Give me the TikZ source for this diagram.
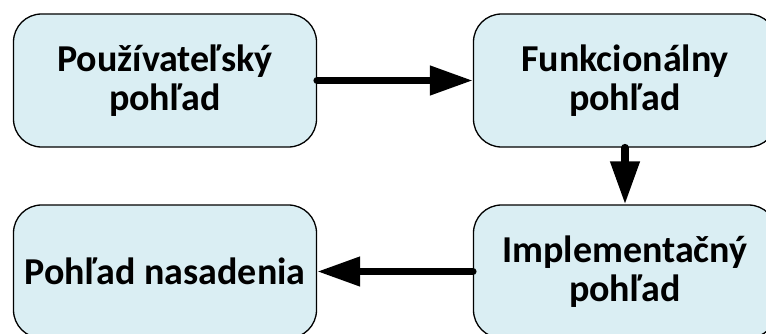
\documentclass[tikz,border=0pt]{standalone}
\usepackage{fontspec}
\setmainfont{Carlito}
\usetikzlibrary{arrows.meta}
\definecolor{boxfill}{HTML}{DAEEF3}
\tikzset{
  viewbox/.style={draw=black, line width=1.3pt, fill=boxfill, rounded corners=28pt,
    minimum width=303pt, minimum height=133pt, align=center, inner sep=0pt,
    font=\fontsize{38}{39.5}\selectfont\bfseries},
  flow/.style={line width=7.5pt, line cap=round,
    -{Triangle[length=43pt, width=28pt]}}
}
\begin{document}
\begin{tikzpicture}[x=1pt, y=1pt]
\useasboundingbox (0,0) rectangle (766,333);
\clip (0,0) rectangle (766,333);
% the four views
\node[viewbox] (user) at (165,252.5) {Používateľský\\pohľad};
\node[viewbox] (func) at (625,252.5) {Funkcionálny\\pohľad};
\node[viewbox] (deploy) at (165,61.5) {Pohľad nasadenia};
\node[viewbox] (impl) at (625,61.5) {Implementačný\\pohľad};
% transitions between views
\draw[flow] (user.east) -- (func.west);
\draw[flow] (func.south) -- (impl.north);
\draw[flow] (impl.west) -- (deploy.east);
\end{tikzpicture}
\end{document}
